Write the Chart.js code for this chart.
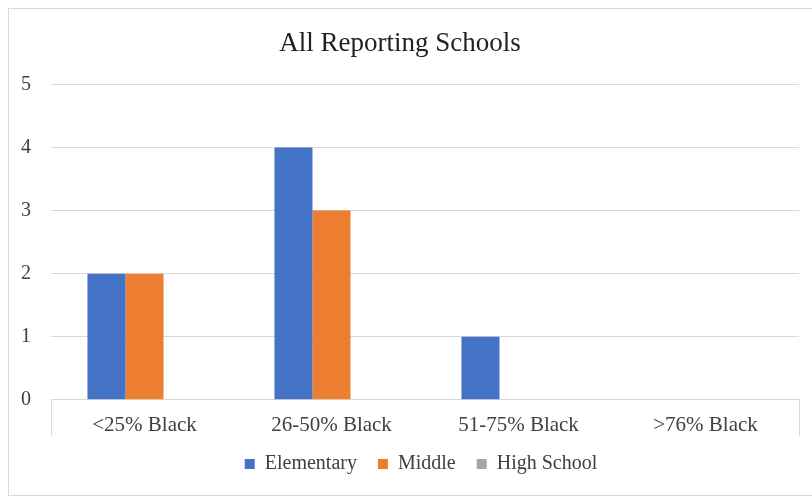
<!DOCTYPE html>
<html lang="en">
<head>
  <meta charset="UTF-8" />
  <title>All Reporting Schools</title>
  <script src="https://cdn.jsdelivr.net/npm/chart.js"></script>
  <style>
    body {
      margin: 0;
      background: #fff;
      width: 812px;
      height: 496px;
      overflow: hidden;
      position: relative;
    }
    .frame {
      position: absolute;
      left: 8px;
      top: 8px;
      width: 812px;
      height: 486px;
      border: 1px solid #d9d9d9;
    }
    .wrap {
      position: absolute;
      left: 0;
      top: 0;
      width: 812px;
      height: 496px;
    }
  </style>
</head>
<body>
<div class="frame"></div>
<div class="wrap"><canvas id="schoolChart"></canvas></div>

<script>
  // Dati
  const categories = ['<25% Black', '26-50% Black', '51-75% Black', '>76% Black'];
  const elementary = [2, 4, 1, 0];
  const middle = [2, 3, 0, 0];
  const highSchool = [0, 0, 0, 0];
  const yTicks = [0, 1, 2, 3, 4, 5];

  const serif = "'Liberation Serif', 'Times New Roman', serif";

  // Linee verticali ai bordi dell'asse x (stile Excel)
  const edgeLines = {
    id: 'edgeLines',
    afterDraw(chart) {
      const { ctx, chartArea } = chart;
      ctx.save();
      ctx.strokeStyle = '#d9d9d9';
      ctx.lineWidth = 1;
      ctx.beginPath();
      [chartArea.left, chartArea.right].forEach(x => {
        const px = Math.round(x) + 0.5;
        ctx.moveTo(px, chartArea.bottom);
        ctx.lineTo(px, chartArea.bottom + 36);
      });
      ctx.stroke();
      ctx.restore();
    }
  };

  // La legenda in Excel sta un po' più a destra e più in alto
  const legendNudge = {
    id: 'legendNudge',
    afterLayout(chart) {
      const lg = chart.legend;
      lg.left += 21;
      lg.right += 21;
      lg.top -= 10;
      lg.bottom -= 10;
    }
  };

  const ctx = document.getElementById('schoolChart').getContext('2d');
  new Chart(ctx, {
    type: 'bar',
    data: {
      labels: categories,
      datasets: [
        { label: 'Elementary', data: elementary, backgroundColor: '#4472C4' },
        { label: 'Middle', data: middle, backgroundColor: '#ED7D31' },
        { label: 'High School', data: highSchool, backgroundColor: '#A5A5A5' }
      ]
    },
    options: {
      responsive: true,
      maintainAspectRatio: false,
      animation: false,
      datasets: {
        bar: { categoryPercentage: 0.61, barPercentage: 1.0 }
      },
      layout: {
        padding: { left: 1, right: 13, top: 22, bottom: 11 }
      },
      plugins: {
        title: {
          display: true,
          text: 'All Reporting Schools',
          color: '#222',
          font: { family: serif, size: 27, weight: 'normal' },
          padding: { top: 6, bottom: 24 }
        },
        legend: {
          position: 'bottom',
          maxHeight: 42,
          labels: {
            color: '#404040',
            font: { family: serif, size: 20 },
            boxWidth: 10,
            boxHeight: 10,
            padding: 21
          }
        },
        tooltip: { enabled: false }
      },
      scales: {
        x: {
          grid: { display: false },
          border: { display: true, color: '#d9d9d9' },
          ticks: {
            color: '#404040',
            font: { family: serif, size: 21 },
            padding: 5
          }
        },
        y: {
          min: 0,
          max: 5,
          afterBuildTicks(axis) {
            axis.ticks = yTicks.map(v => ({ value: v }));
          },
          grid: { color: '#d9d9d9', drawTicks: false },
          border: { display: false },
          ticks: {
            color: '#404040',
            font: { family: serif, size: 20 },
            padding: 20
          }
        }
      }
    },
    plugins: [edgeLines, legendNudge]
  });
</script>
</body>
</html>
